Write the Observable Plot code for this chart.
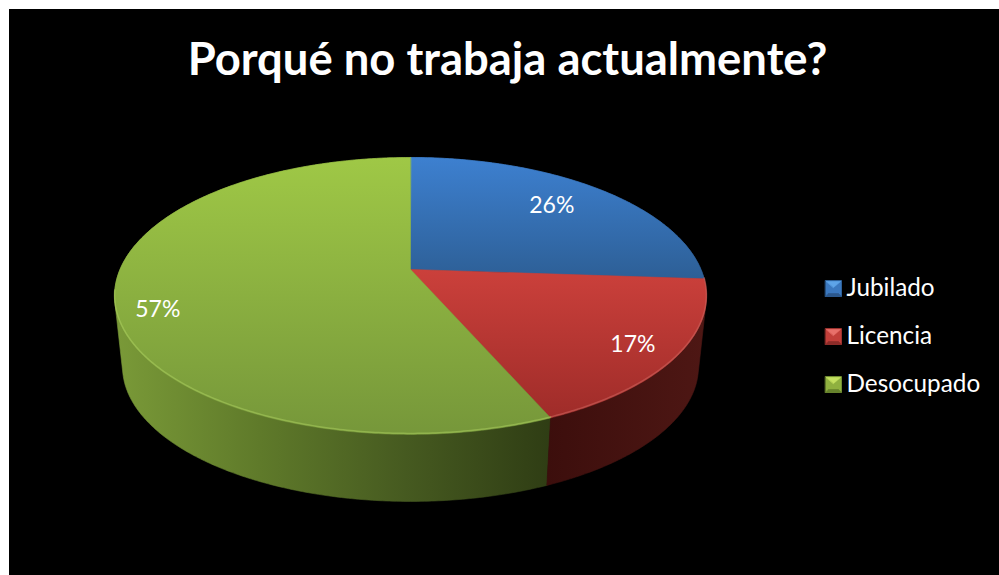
<!DOCTYPE html>
<html><head><meta charset="utf-8">
<script src="https://cdn.jsdelivr.net/npm/d3@7"></script>
<script src="https://cdn.jsdelivr.net/npm/@observablehq/plot@0.6"></script>
<style>html,body{margin:0;padding:0;background:#fff}svg{display:block}</style>
</head><body><div id="chart"></div>
<script>
const titleText = "Porqué no trabaja actualmente?";
const categories = ["Jubilado", "Licencia", "Desocupado"];
const shares = [26.1, 17.39, 56.51];
const labelRadius = [0.75, 0.858, 0.87];
const labelTurn = [-0.004, 0.003, -0.02];
const topStops = [["#3d80d0", "#2d5f96"], ["#cb403b", "#9f2c29"], ["#9fc846", "#76973a"]];
const sideStops = [["#2c5a90", "#1c3a60"], ["#3c0e0c", "#4e1714"], ["#7a9a38", "#5f7a2a", "#465a20", "#2f3d14"]];
const rimColor = ["#6aa0e0", "#d8706a", "#b4d865"];
const swatchTones = [["#5ea4e8", "#3b78bf", "#2b578c"], ["#e8706a", "#c23f3a", "#8c2b28"], ["#c4e060", "#8fb03f", "#66822c"]];

const W = 999, H = 575;
const cx = 410, hubY = 269, R = 290.5, S = 133.4, k = 0.191;
const depthScale = 0.973, baseHubY = 340.5;
const project = (a, r = 1, base = false) => {
  const u = r * Math.sin(a), v = -r * Math.cos(a), w = 1 - k * v;
  const s = base ? depthScale : 1;
  return {x: cx + s * R * u / w, y: (base ? baseHubY : hubY) + s * S * v / w};
};
const total = d3.sum(shares);
let acc = 0;
const slices = shares.map((v, i) => {
  const a0 = acc / total * 2 * Math.PI; acc += v;
  return {i, a0, a1: acc / total * 2 * Math.PI, v};
});
const arc = (a0, a1, base) => {
  const n = Math.max(2, Math.ceil((a1 - a0) / 0.01));
  return d3.range(n + 1).map(j => project(a0 + (a1 - a0) * j / n, 1, base));
};
const poly = (rows, fill, extra = {}) => Plot.line(rows, {x: "x", y: "y", curve: "linear-closed", fill, stroke: fill, strokeWidth: 0.6, ...extra});
const hull = rows => d3.polygonHull(rows.map(p => [p.x, p.y])).map(([x, y]) => ({x, y}));

const defsMark = () => {
  const NS = "http://www.w3.org/2000/svg";
  const g = document.createElementNS(NS, "g");
  const defs = document.createElementNS(NS, "defs");
  const grad = (id, stops, horizontal) => {
    const lg = document.createElementNS(NS, "linearGradient");
    lg.setAttribute("id", id);
    lg.setAttribute("x1", "0"); lg.setAttribute("y1", "0");
    lg.setAttribute("x2", horizontal ? "1" : "0"); lg.setAttribute("y2", horizontal ? "0" : "1");
    stops.forEach((c, i) => {
      const st = document.createElementNS(NS, "stop");
      st.setAttribute("offset", i / (stops.length - 1));
      st.setAttribute("stop-color", c);
      lg.appendChild(st);
    });
    defs.appendChild(lg);
  };
  topStops.forEach((s, i) => grad("top" + i, s, false));
  sideStops.forEach((s, i) => grad("side" + i, s, true));
  g.appendChild(defs);
  return g;
};

const sideMarks = [0, 2, 1].map(i => slices[i]).map(s =>
  poly(hull([...arc(s.a0, s.a1, false), ...arc(s.a0, s.a1, true)]), `url(#side${s.i})`));
const topMarks = slices.map(s =>
  poly([{x: cx, y: hubY}, ...arc(s.a0, s.a1, false)], `url(#top${s.i})`));
const frontLimit = 1.45 * Math.PI;
const rimMarks = slices.filter(s => s.i > 0).map(s =>
  Plot.line(arc(s.a0, Math.min(s.a1, frontLimit), false).map(p => ({x: p.x, y: p.y - 1})),
    {x: "x", y: "y", stroke: rimColor[s.i], strokeWidth: 1.5, strokeOpacity: 0.45}));

const labels = slices.map(s => {
  const mid = (s.a0 + s.a1) / 2 + labelTurn[s.i] * 2 * Math.PI;
  return {...project(mid, labelRadius[s.i]), text: Math.round(s.v / total * 100) + "%"};
});

const legendX = 833, legendY = i => 288 + 48 * i, half = 8;
const legendRows = categories.map((c, i) => ({c, i, x: legendX + half + 5, y: legendY(i)}));
const swatchMarks = categories.flatMap((c, i) => {
  const y = legendY(i), x0 = legendX - half, x1 = legendX + half, y0 = y - half, y1 = y + half;
  const mid = {x: legendX, y: y - 1};
  const [t, m, b] = swatchTones[i];
  return [
    poly([{x: x0, y: y0}, {x: x1, y: y0}, {x: x1, y: y1}, {x: x0, y: y1}], m),
    poly([{x: x0, y: y1}, {x: x1, y: y1}, {x: x1 - 3, y: y1 - 3}, {x: x0 + 3, y: y1 - 3}], b),
    poly([{x: x0 + 1, y: y0 + 1}, {x: x1 - 1, y: y0 + 1}, mid], t)
  ];
});

const fig = Plot.plot({
  width: W, height: H, margin: 0,
  style: {background: "#fff", fontFamily: "Lato, sans-serif"},
  x: {domain: [0, W], range: [0, W], axis: null},
  y: {domain: [0, H], range: [0, H], axis: null},
  marks: [
    Plot.rect([{}], {x1: () => 9, x2: () => W, y1: () => 9, y2: () => H, fill: "#000"}),
    defsMark,
    ...sideMarks,
    ...topMarks,
    ...rimMarks,
    Plot.text([titleText], {x: () => 507, y: () => 60, text: d => d, fill: "#fff", fontSize: 45.4, fontWeight: 700, textAnchor: "middle", lineAnchor: "middle"}),
    Plot.text(labels, {x: "x", y: "y", text: "text", fill: "#fff", fontSize: 23, textAnchor: "middle", lineAnchor: "middle"}),
    ...swatchMarks,
    Plot.text(legendRows, {x: "x", y: "y", text: "c", fill: "#fff", fontSize: 24.3, textAnchor: "start", lineAnchor: "middle"})
  ]
});
document.getElementById("chart").appendChild(fig);
</script></body></html>
